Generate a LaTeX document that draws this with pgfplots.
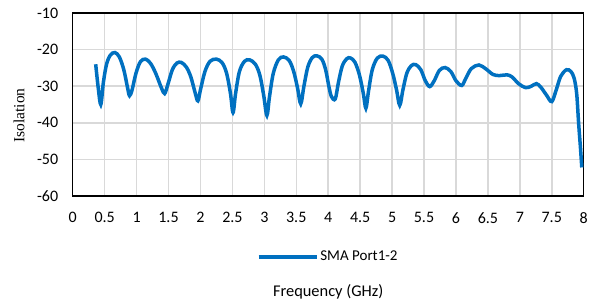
\documentclass[border=0pt]{standalone}
\usepackage{fontspec}
\setmainfont{Carlito}
\newfontfamily\serifl{Liberation Serif}
\usepackage{pgfplots}
\pgfplotsset{compat=1.18}
\definecolor{qblue}{RGB}{0,112,192}
\definecolor{qgrid}{RGB}{217,217,217}
\begin{document}
\fontsize{16bp}{18bp}\selectfont
\begin{tikzpicture}
\path[use as bounding box] (-72.7bp,-109bp) rectangle (523.3bp,196bp);
\begin{axis}[
  at={(0,0)}, anchor=south west,
  scale only axis, width=511bp, height=183bp,
  xmin=0, xmax=8, ymin=-60, ymax=-10,
  xtick={0,0.5,...,8},
  xticklabels={0,0.5,1,1.5,2,2.5,3,3.5,4,4.5,5,5.5,6,6.5,7,7.5,8},
  ytick={-60,-50,-40,-30,-20,-10},
  yticklabels={-60,-50,-40,-30,-20,-10},
  major tick length=0pt,
  grid=major,
  major grid style={qgrid, line width=1.5bp},
  axis line style={black, line width=1.4bp},
  tick label style={font=\fontsize{16bp}{18bp}\selectfont},
  xticklabel style={yshift=-11bp},
  yticklabel style={xshift=-9bp},
  ylabel={\serifl Isolation},
  ylabel style={at={(axis description cs:-0.105,0.44)}, anchor=center, rotate=0, font=\fontsize{15.5bp}{17bp}\selectfont},
  xlabel={Frequency (GHz)},
  xlabel style={at={(axis description cs:0.5,-0.525)}, anchor=center, font=\fontsize{16.4bp}{18bp}\selectfont},
  legend style={at={(axis description cs:0.5,-0.332)}, anchor=center, draw=none, fill=none, font=\fontsize{15bp}{17bp}\selectfont, inner sep=0pt},
  legend image code/.code={\draw[#1, line width=3.5bp] (0bp,0bp) -- (58bp,0bp);},
  legend cell align=left,
  clip=false,
]
\addplot[qblue, line width=3.5bp, smooth, tension=0.55] coordinates {
(0.36,-24.0) (0.40,-30.5) (0.44,-35.0) (0.48,-29) (0.53,-24.0) (0.59,-21.5) (0.66,-20.8) (0.73,-22.0) (0.80,-25.5) (0.86,-30.5) (0.89,-32.6) (0.93,-31) (0.99,-26.5) (1.06,-23.3) (1.14,-22.6) (1.22,-23.8) (1.30,-26.5) (1.39,-30.5) (1.44,-32.0) (1.49,-29.5) (1.56,-25.5) (1.63,-23.7) (1.70,-23.5) (1.78,-24.8) (1.85,-27.5) (1.92,-32) (1.96,-34.0) (2.00,-31) (2.07,-26) (2.15,-23.2) (2.25,-22.6) (2.34,-23.6) (2.41,-26.5) (2.47,-32) (2.51,-37.2) (2.55,-32) (2.61,-26) (2.69,-23.2) (2.77,-22.8) (2.86,-24.0) (2.93,-27) (2.99,-32.5) (3.04,-38.0) (3.08,-33) (3.14,-26.5) (3.22,-22.8) (3.30,-22.0) (3.39,-23.0) (3.46,-26.0) (3.52,-30.5) (3.57,-34.8) (3.62,-30) (3.68,-24.8) (3.75,-22.2) (3.82,-21.7) (3.90,-22.6) (3.96,-25.5) (4.01,-30) (4.05,-32.8) (4.11,-33.5) (4.16,-29) (4.22,-24.5) (4.29,-22.5) (4.35,-22.3) (4.42,-23.5) (4.49,-27) (4.55,-32) (4.59,-36.0) (4.63,-31.5) (4.69,-25.5) (4.77,-22.3) (4.86,-21.8) (4.94,-23.0) (5.01,-26.5) (5.07,-31) (5.12,-35.2) (5.17,-31) (5.23,-26.5) (5.30,-24.4) (5.37,-24.1) (5.45,-25.5) (5.52,-28.5) (5.59,-30.1) (5.66,-28.5) (5.74,-25.7) (5.83,-24.9) (5.92,-26) (6.00,-28.5) (6.09,-29.8) (6.15,-28) (6.24,-25.2) (6.36,-24.2) (6.47,-25.3) (6.58,-26.8) (6.68,-27.1) (6.80,-26.9) (6.88,-27.5) (6.98,-29.3) (7.09,-30.4) (7.18,-30.0) (7.26,-29.3) (7.33,-30.3) (7.42,-32.5) (7.50,-34.2) (7.57,-31) (7.64,-27.3) (7.73,-25.5) (7.80,-26.0) (7.85,-27.8) (7.89,-32) (7.92,-40) (7.95,-47) (7.97,-52.2)
};
\addlegendentry{SMA Port1-2}
\end{axis}
\end{tikzpicture}
\end{document}
